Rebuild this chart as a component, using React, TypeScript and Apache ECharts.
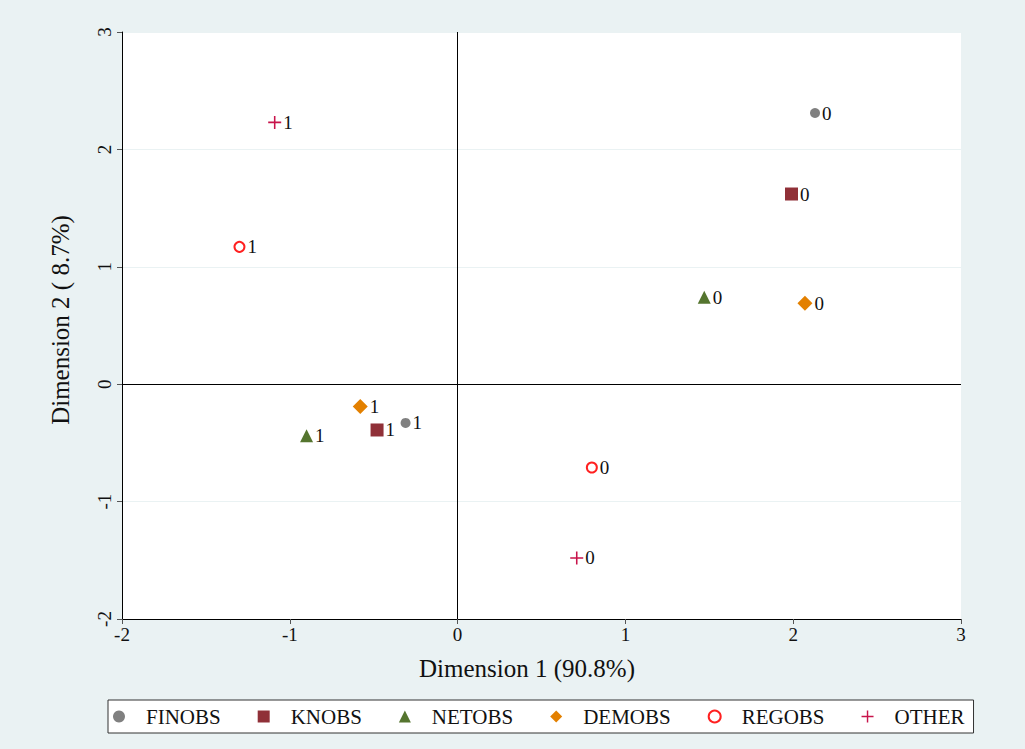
import React, { useEffect, useRef } from "react";
import * as echarts from "echarts";

const seriesNames = ["FINOBS", "KNOBS", "NETOBS", "DEMOBS", "REGOBS", "OTHER"];
const pointLabels = ["0", "1"];
const finobs = [[2.13, 2.31], [-0.31, -0.33]];
const knobs = [[1.99, 1.62], [-0.48, -0.39]];
const netobs = [[1.47, 0.74], [-0.9, -0.44]];
const demobs = [[2.07, 0.69], [-0.58, -0.19]];
const regobs = [[0.8, -0.71], [-1.3, 1.17]];
const other = [[0.71, -1.48], [-1.09, 2.23]];
const xTicks = [-2, -1, 0, 1, 2, 3];
const yTicks = [-2, -1, 0, 1, 2, 3];

const FONT = "'Liberation Serif', 'Times New Roman', serif";
const PLUS = "path://M0,4.4H10V5.6H0Z M4.4,0H5.6V10H4.4Z";

export default function App() {
  const ref = useRef<HTMLDivElement>(null);
  useEffect(() => {
    const chart = echarts.init(ref.current!, null, { renderer: "svg" });
    const datasets = [finobs, knobs, netobs, demobs, regobs, other];
    const styles = [
      { symbol: "circle", size: 10, color: "#808080" },
      { symbol: "rect", size: 13, color: "#903038" },
      { symbol: "triangle", size: 13, color: "#55752f" },
      { symbol: "diamond", size: 15, color: "#e38000" },
      { symbol: "emptyCircle", size: 10, color: "#ff2020" },
      { symbol: PLUS, size: 13, color: "#c8144b" },
    ];
    const series: any[] = datasets.map((d, i) => ({
      name: seriesNames[i],
      type: "scatter",
      symbol: styles[i].symbol,
      symbolSize: styles[i].size,
      itemStyle:
        styles[i].symbol === "emptyCircle"
          ? { color: styles[i].color, borderColor: styles[i].color, borderWidth: 1, opacity: 1 }
          : { color: styles[i].color, opacity: 1 },
      data: d.map((p, j) => ({ value: p, name: pointLabels[j] })),
      label: {
        show: true,
        position: "right",
        distance: 2,
        formatter: (pp: any) => pp.name,
        color: "#111",
        fontSize: 19,
        fontFamily: FONT,
      },
      markLine:
        i === 0
          ? {
              silent: true,
              symbol: "none",
              label: { show: false },
              lineStyle: { color: "#000", width: 1, type: "solid" },
              data: [{ xAxis: 0 }, { yAxis: 0 }],
            }
          : undefined,
    }));
    chart.setOption({
      animation: false,
      backgroundColor: "#eaf2f3",
      grid: {
        left: 122,
        right: 1025 - 961,
        top: 32,
        bottom: 749 - 619,
        show: true,
        backgroundColor: "#ffffff",
        borderWidth: 0,
      },
      xAxis: {
        type: "value",
        min: xTicks[0],
        max: xTicks[xTicks.length - 1],
        interval: 1,
        axisLine: { show: true, onZero: false, lineStyle: { color: "#000", width: 1 } },
        axisTick: { show: true, length: 5, lineStyle: { color: "#555" } },
        axisLabel: { color: "#111", fontSize: 19, fontFamily: FONT, margin: 6 },
        splitLine: { show: false },
      },
      yAxis: {
        type: "value",
        min: yTicks[0],
        max: yTicks[yTicks.length - 1],
        interval: 1,
        axisLine: { show: true, onZero: false, lineStyle: { color: "#000", width: 1 } },
        axisTick: { show: true, length: 5, lineStyle: { color: "#555" } },
        axisLabel: { color: "#111", fontSize: 19, fontFamily: FONT, rotate: 90, margin: 8 },
        splitLine: { show: true, lineStyle: { color: "#eaf2f3", width: 1 } },
      },
      legend: {
        data: seriesNames,
        left: 108,
        top: 700,
        orient: "horizontal",
        backgroundColor: "#ffffff",
        borderColor: "#333",
        borderWidth: 1,
        borderRadius: 0,
        padding: [6, 9, 6, 5],
        itemGap: 37,
        itemWidth: 12,
        itemHeight: 12,
        textStyle: { color: "#111", fontSize: 21, fontFamily: FONT, padding: [0, 0, 0, 16] },
      },
      graphic: [
        {
          type: "text",
          x: 527,
          y: 668,
          style: {
            text: "Dimension 1 (90.8%)",
            fontSize: 25,
            fontFamily: FONT,
            fill: "#111",
            align: "center",
            verticalAlign: "middle",
          },
        },
        {
          type: "text",
          x: 60,
          y: 320,
          rotation: Math.PI / 2,
          style: {
            text: "Dimension 2 ( 8.7%)",
            fontSize: 25,
            fontFamily: FONT,
            fill: "#111",
            align: "center",
            verticalAlign: "middle",
          },
        },
      ],
      series,
    });
    return () => chart.dispose();
  }, []);
  return (
    <div
      ref={ref}
      style={{ position: "absolute", left: 0, top: 0, width: 1025, height: 749 }}
    />
  );
}
